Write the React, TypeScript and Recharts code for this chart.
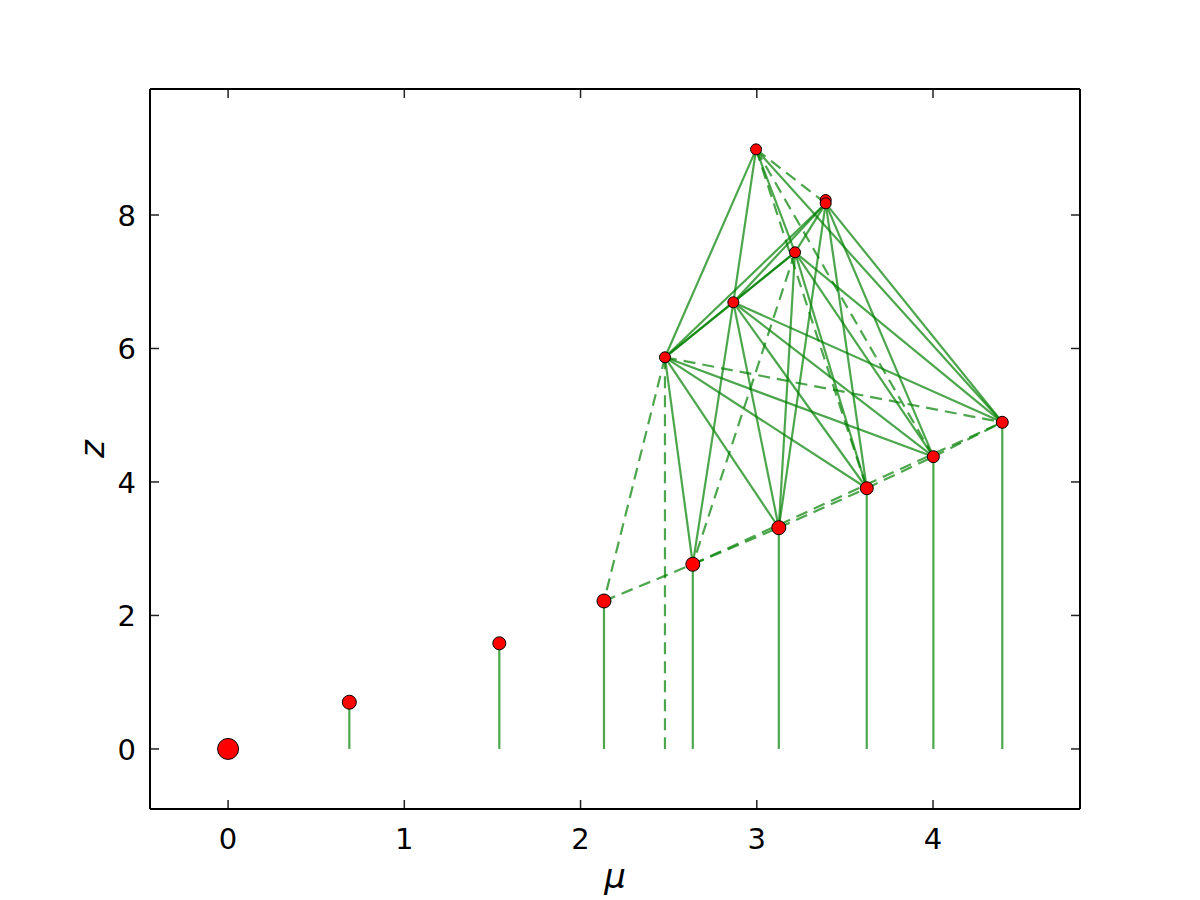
import { Scatter, ScatterChart, XAxis, YAxis } from 'recharts';

// nodes of the diagram
const nodeNames = ['O', 'n1', 'n2', 'P1', 'P2', 'P3', 'P4', 'P5', 'P6', 'A', 'B', 'C', 'D2', 'D', 'E'];
const muValues = [0, 0.688, 1.539, 2.133, 2.637, 3.125, 3.624, 4.002, 4.393, 2.479, 2.867, 3.217, 3.391, 3.391, 2.996];
const zValues = [0, 0.7, 1.583, 2.217, 2.767, 3.315, 3.906, 4.379, 4.894, 5.868, 6.692, 7.441, 8.225, 8.175, 8.984];

const solidEdges = [
  ['A', 'E'], ['B', 'E'], ['C', 'E'], ['E', 'P6'],
  ['A', 'B'], ['A', 'C'], ['A', 'D'], ['B', 'C'], ['B', 'D'], ['C', 'D'],
  ['A', 'P2'], ['A', 'P3'], ['A', 'P4'], ['A', 'P5'],
  ['B', 'P2'], ['B', 'P3'], ['B', 'P4'], ['B', 'P5'], ['B', 'P6'],
  ['C', 'P3'], ['C', 'P4'], ['C', 'P5'], ['C', 'P6'],
  ['D', 'P3'], ['D', 'P4'], ['D', 'P5'], ['D', 'P6'],
];
const dashedEdges = [
  ['E', 'D'], ['E', 'P4'], ['E', 'P5'],
  ['A', 'P1'], ['A', 'P6'], ['C', 'P2'],
  ['P1', 'P2'], ['P2', 'P3'], ['P3', 'P4'], ['P4', 'P5'], ['P5', 'P6'], ['P2', 'P6'],
];
const solidStems = ['n1', 'n2', 'P1', 'P2', 'P3', 'P4', 'P5', 'P6'];
const dashedStems = ['A'];
const stemBase = 0;

const xTicks = [0, 1, 2, 3, 4];
const yTicks = [0, 2, 4, 6, 8];

// styles
const GREEN = '#008000';
const markerRadius: Record<string, number> = {
  O: 10.5, n1: 7, n2: 6.5, P1: 7, P2: 7, P3: 7, P4: 6.5, P5: 6, P6: 6,
  A: 5.5, B: 5.5, C: 5.5, D: 5.5, D2: 5.5, E: 5.5,
};
const FONT = 'DejaVu Sans';
const TICK_FONT = 29;
const TICK_LEN = 9;
const TICK_STROKE = '#222';

const nodes = nodeNames.map((name, i) => ({ name, mu: muValues[i], z: zValues[i] }));
const pt = (name: string) => {
  const i = nodeNames.indexOf(name);
  return { mu: muValues[i], z: zValues[i] };
};

type Seg = { data: { mu: number; z: number }[]; dashed: boolean };
const segments: Seg[] = [
  ...solidEdges.map(([a, b]) => ({ data: [pt(a), pt(b)], dashed: false })),
  ...dashedEdges.map(([a, b]) => ({ data: [pt(a), pt(b)], dashed: true })),
  ...solidStems.map((a) => ({ data: [pt(a), { mu: pt(a).mu, z: stemBase }], dashed: false })),
  ...dashedStems.map((a) => ({ data: [pt(a), { mu: pt(a).mu, z: stemBase }], dashed: true })),
];

// tickSize = 0 and tickMargin = 0, so the x/y handed to these sit on the frame; marks point inward
const BottomTick = ({ x, y, payload }: any) => (
  <g>
    <path d={`M${x},${y - 1}V${y - TICK_LEN}`} stroke={TICK_STROKE} strokeWidth={1.5} fill="none" />
    <text x={x} y={y + 40} textAnchor="middle" fontSize={TICK_FONT} fontFamily={FONT} fill="#000">
      {payload.value}
    </text>
  </g>
);
const TopTick = ({ x, y }: any) => (
  <path d={`M${x},${y + 1}V${y + TICK_LEN}`} stroke={TICK_STROKE} strokeWidth={1.5} fill="none" />
);
const LeftTick = ({ x, y, payload }: any) => (
  <g>
    <path d={`M${x + 1},${y}H${x + TICK_LEN}`} stroke={TICK_STROKE} strokeWidth={1.5} fill="none" />
    <text x={x - 14} y={y + 11} textAnchor="end" fontSize={TICK_FONT} fontFamily={FONT} fill="#000">
      {payload.value}
    </text>
  </g>
);
const RightTick = ({ x, y }: any) => (
  <path d={`M${x - 1},${y}H${x - TICK_LEN}`} stroke={TICK_STROKE} strokeWidth={1.5} fill="none" />
);

const xLabel = (props: any) => {
  const vb = props.viewBox;
  return (
    <text x={vb.x + vb.width / 2} y={vb.y + 79} textAnchor="middle" fontSize={34} fontStyle="italic" fontFamily={FONT} fill="#000">
      μ
    </text>
  );
};
const yLabel = (props: any) => {
  const vb = props.viewBox;
  const cx = vb.x + 104;
  const cy = vb.y + vb.height / 2;
  return (
    <text x={cx} y={cy} transform={`rotate(-90 ${cx} ${cy})`} textAnchor="middle" fontSize={34} fontStyle="italic" fontFamily={FONT} fill="#000">
      z
    </text>
  );
};

const frame = { stroke: '#000', strokeWidth: 2 };

export default function App() {
  return (
    <div style={{ position: 'absolute', left: 0, top: 0, background: '#fff' }}>
      <ScatterChart width={1200} height={900} margin={{ top: 88, right: 119, bottom: 0, left: 0 }}>
        <XAxis
          type="number"
          dataKey="mu"
          domain={[-0.443, 4.834]}
          ticks={xTicks}
          allowDataOverflow
          height={91}
          tickLine={false}
          tickSize={0}
          tickMargin={0}
          tick={BottomTick}
          axisLine={frame}
          label={{ content: xLabel }}
        />
        <XAxis
          xAxisId="top"
          orientation="top"
          type="number"
          dataKey="mu"
          domain={[-0.443, 4.834]}
          ticks={xTicks}
          allowDataOverflow
          height={1}
          tickLine={false}
          tickSize={0}
          tickMargin={0}
          tick={TopTick}
          axisLine={frame}
        />
        <YAxis
          type="number"
          dataKey="z"
          domain={[-0.9, 9.888]}
          ticks={yTicks}
          allowDataOverflow
          width={150}
          tickLine={false}
          tickSize={0}
          tickMargin={0}
          tick={LeftTick}
          axisLine={frame}
          label={{ content: yLabel }}
        />
        <YAxis
          yAxisId="right"
          orientation="right"
          type="number"
          dataKey="z"
          domain={[-0.9, 9.888]}
          ticks={yTicks}
          allowDataOverflow
          width={1}
          tickLine={false}
          tickSize={0}
          tickMargin={0}
          tick={RightTick}
          axisLine={frame}
        />
        {/* invisible series bound to the top/right frame axes */}
        <Scatter
          xAxisId="top"
          yAxisId="right"
          data={nodes}
          fill="none"
          shape={() => <g />}
          isAnimationActive={false}
        />
        {segments.map((s, i) => (
          <Scatter
            key={'seg' + i}
            data={s.data}
            fill={GREEN}
            line={{
              stroke: GREEN,
              strokeOpacity: 0.7,
              strokeWidth: 2.2,
              strokeDasharray: s.dashed ? '12 7' : undefined,
            }}
            shape={() => <g />}
            isAnimationActive={false}
          />
        ))}
        <Scatter
          data={nodes}
          fill="#ff0000"
          isAnimationActive={false}
          shape={(p: any) => (
            <circle cx={p.cx} cy={p.cy} r={markerRadius[p.payload.name]} fill="#ff0000" stroke="#000" strokeWidth={1} />
          )}
        />
      </ScatterChart>
    </div>
  );
}
